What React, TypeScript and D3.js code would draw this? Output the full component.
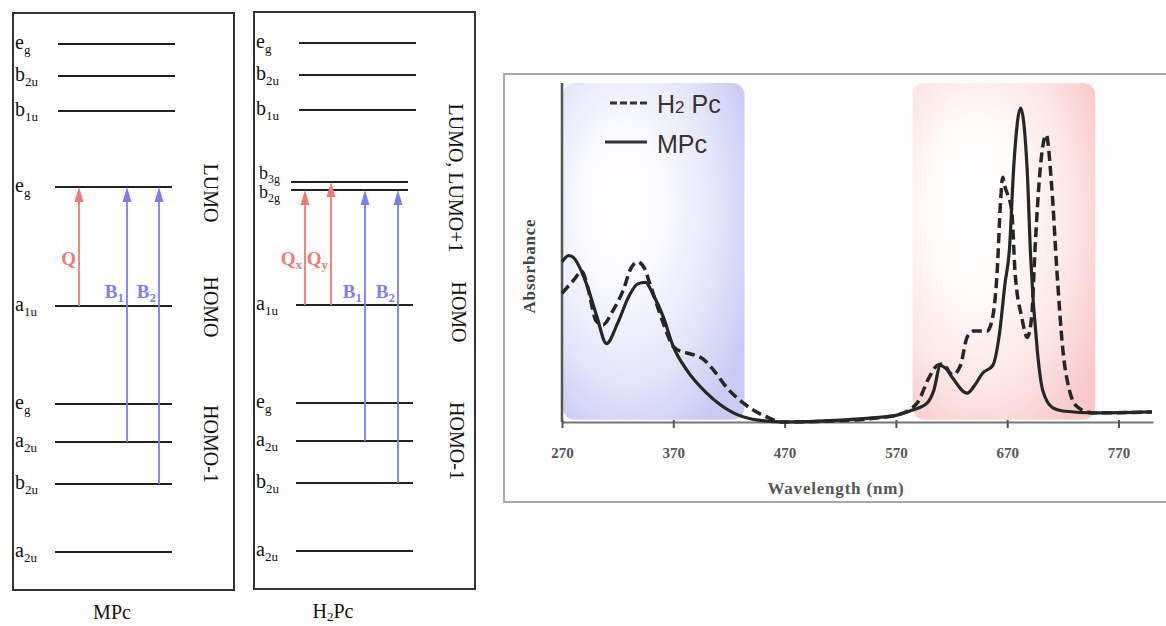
import React, { useRef, useEffect } from "react";
import * as d3 from "d3";

// MO levels, energies in arbitrary units (higher = up)
const mpcLevels = [
  { sym: "e", sub: "g", e: 5.46 },
  { sym: "b", sub: "2u", e: 5.14 },
  { sym: "b", sub: "1u", e: 4.79 },
  { sym: "e", sub: "g", e: 4.03 },
  { sym: "a", sub: "1u", e: 2.84 },
  { sym: "e", sub: "g", e: 1.86 },
  { sym: "a", sub: "2u", e: 1.48 },
  { sym: "b", sub: "2u", e: 1.06 },
  { sym: "a", sub: "2u", e: 0.38 },
];

const h2pcLevels = [
  { sym: "e", sub: "g", e: 5.47 },
  { sym: "b", sub: "2u", e: 5.15 },
  { sym: "b", sub: "1u", e: 4.8 },
  { sym: "b", sub: "3g", e: 4.08 },
  { sym: "b", sub: "2g", e: 4.0 },
  { sym: "a", sub: "1u", e: 2.85 },
  { sym: "e", sub: "g", e: 1.87 },
  { sym: "a", sub: "2u", e: 1.49 },
  { sym: "b", sub: "2u", e: 1.07 },
  { sym: "a", sub: "2u", e: 0.39 },
];

// transitions: index of start level -> index of end level
const mpcTransitions = [
  { name: "Q", sub: "", band: "Q", from: 4, to: 3 },
  { name: "B", sub: "1", band: "B", from: 6, to: 3 },
  { name: "B", sub: "2", band: "B", from: 7, to: 3 },
];
const h2pcTransitions = [
  { name: "Q", sub: "x", band: "Q", from: 5, to: 4 },
  { name: "Q", sub: "y", band: "Q", from: 5, to: 3 },
  { name: "B", sub: "1", band: "B", from: 7, to: 4 },
  { name: "B", sub: "2", band: "B", from: 8, to: 4 },
];

const mpcSideLabels = ["LUMO", "HOMO", "HOMO-1"];
const h2pcSideLabels = ["LUMO, LUMO+1", "HOMO", "HOMO-1"];

// UV-vis spectra
const wavelengthTicks = [270, 370, 470, 570, 670, 770];

const mpcWl = [270, 276, 280, 292, 301, 310, 320, 330, 338, 345, 352, 361, 370, 382, 400, 424, 448, 470, 520, 549, 571, 585, 598, 604, 610, 615, 621, 634, 641, 648, 657, 663, 668, 672, 676, 682, 688, 691, 697, 702, 711, 720, 750, 800];
const mpcAbs = [0.51, 0.53, 0.525, 0.44, 0.34, 0.25, 0.315, 0.4, 0.44, 0.445, 0.405, 0.335, 0.24, 0.166, 0.092, 0.029, 0.005, 0.0, 0.006, 0.013, 0.022, 0.038, 0.06, 0.1, 0.18, 0.17, 0.14, 0.092, 0.118, 0.156, 0.18, 0.28, 0.44, 0.55, 0.82, 1.0, 0.8, 0.53, 0.23, 0.1, 0.045, 0.035, 0.029, 0.032];

const h2pcWl = [270, 280, 288, 293, 301, 307, 315, 325, 332, 338, 344, 349, 361, 370, 377, 382, 390, 397, 406, 418, 433, 454, 468, 520, 550, 571, 589, 600, 607, 612, 621, 628, 634, 640, 646, 652, 657, 661, 664, 666, 668, 674, 677, 683, 688, 692, 695, 699.5, 705, 710, 714.7, 720, 726, 733, 747, 800];
const h2pcAbs = [0.41, 0.45, 0.48, 0.43, 0.32, 0.31, 0.35, 0.42, 0.49, 0.51, 0.49, 0.44, 0.315, 0.24, 0.225, 0.22, 0.212, 0.2, 0.166, 0.11, 0.06, 0.016, 0.0, 0.004, 0.012, 0.022, 0.06, 0.143, 0.18, 0.185, 0.15, 0.18, 0.27, 0.29, 0.29, 0.29, 0.335, 0.48, 0.7, 0.78, 0.75, 0.675, 0.48, 0.335, 0.27, 0.335, 0.55, 0.8, 0.915, 0.75, 0.48, 0.23, 0.1, 0.048, 0.029, 0.032];

const SERIF = "'Liberation Serif', 'Times New Roman', serif";
const SANS = "'Liberation Sans', Arial, sans-serif";
const RED = "#f07878";
const BLUE = "#7d7df2";
const INK = "#262626";

const eScale = d3.scaleLinear().domain([0, 5.77]).range([590, 13]);

const MoPanel = ({ levels, transitions, side, boxX, boxY, lineX, arrowX, sideX, sideY, caption }) => {
  return (
    <g>
      <rect x={boxX} y={boxY} width={221} height={577} fill="none" stroke="#333" strokeWidth={2} />
      {levels.map((l, i) => {
        const yy = eScale(l.e);
        const close = i + 1 < levels.length && l.e - levels[i + 1].e < 0.15;
        const pair = close || (i > 0 && levels[i - 1].e - l.e < 0.15);
        const upper = i < 3;
        const x1 = lineX + (upper ? 3 : pair ? -5 : 0);
        return (
          <g key={i}>
            <line x1={x1} x2={x1 + 117} y1={yy} y2={yy} stroke="#222" strokeWidth={2} />
            <text x={boxX + (pair ? 5 : 2)} y={yy + (close ? -3 : pair ? 8 : 5)} fontFamily={SERIF} fontSize={pair ? 18 : 20} fill="#111">
              {l.sym}
              <tspan fontSize={pair ? 12 : 13} dy={pair ? 4 : 5}>{l.sub}</tspan>
            </text>
          </g>
        );
      })}
      {transitions.map((t, i) => {
        const ax = arrowX[i];
        const y0 = eScale(levels[t.from].e);
        const y1 = eScale(levels[t.to].e);
        const c = t.band === "Q" ? RED : BLUE;
        return (
          <g key={i}>
            <line x1={ax} x2={ax} y1={y0} y2={y1 + 12} stroke={c} strokeWidth={1.8} />
            <path d={`M${ax},${y1} L${ax - 4.5},${y1 + 15} L${ax + 4.5},${y1 + 15} Z`} fill={c} />
            <text x={ax - 3} y={t.band === "Q" ? 265 : 298} textAnchor="end" fontFamily={SERIF} fontWeight="bold" fontSize={19} fill={c}>
              {t.name}
              <tspan fontSize={13} dy={4}>{t.sub}</tspan>
            </text>
          </g>
        );
      })}
      {side.map((s, i) => (
        <text key={s} transform={`translate(${sideX[i]},${sideY[i]}) rotate(90)`} textAnchor="middle" dominantBaseline="middle" fontFamily={SERIF} fontSize={20} fill="#111">
          {s}
        </text>
      ))}
      {caption}
    </g>
  );
};

const Spectrum = () => {
  const axisRef = useRef(null);
  const x = d3.scaleLinear().domain([270, 801]).range([562, 1153]);
  const y = d3.scaleLinear().domain([0, 1.08]).range([422, 83]);

  useEffect(() => {
    const g = d3.select(axisRef.current);
    g.selectAll("*").remove();
    g.call(d3.axisBottom(x).tickValues(wavelengthTicks).tickFormat(d3.format("d")).tickSize(6).tickSizeOuter(0).tickPadding(19));
    g.select(".domain").attr("stroke", "#777").attr("stroke-width", 2);
    g.selectAll(".tick line").attr("stroke", "#555").attr("stroke-width", 2).attr("y1", -2);
    g.selectAll(".tick text")
      .attr("font-family", SERIF)
      .attr("font-weight", "bold")
      .attr("font-size", 15)
      .attr("fill", "#555");
  }, []);

  const line = d3
    .line()
    .x((d) => x(d[0]))
    .y((d) => y(d[1]))
    .curve(d3.curveMonotoneX);

  const mpc = line(mpcWl.map((w, i) => [w, mpcAbs[i]]));
  const h2pc = line(h2pcWl.map((w, i) => [w, h2pcAbs[i]]));

  const bx0 = x(270) + 1, bx1 = x(434);
  const rx0 = x(585), rx1 = x(749);
  const top = y(1.08), bot = y(0.007);

  return (
    <g>
      <defs>
        <radialGradient id="blueGlow" cx="0.38" cy="0.4" r="0.72" fx="0.3" fy="0.35">
          <stop offset="0" stopColor="#ffffff" />
          <stop offset="0.3" stopColor="#fbfbff" />
          <stop offset="0.7" stopColor="#e4e4fa" />
          <stop offset="1" stopColor="#cacaf3" />
        </radialGradient>
        <radialGradient id="redGlow" cx="0.4" cy="0.42" r="0.72" fx="0.3" fy="0.35">
          <stop offset="0" stopColor="#ffffff" />
          <stop offset="0.35" stopColor="#fffbfb" />
          <stop offset="0.72" stopColor="#fde4e4" />
          <stop offset="1" stopColor="#f8caca" />
        </radialGradient>
      </defs>
      <rect x={504} y={74} width={720} height={428} fill="#fdfdfd" stroke="#a8a8a8" strokeWidth={2} />

      <rect x={bx0} y={top} width={bx1 - bx0} height={bot - top} rx={12} fill="url(#blueGlow)" />
      <rect x={rx0} y={top} width={rx1 - rx0} height={bot - top} rx={12} fill="url(#redGlow)" />

      <line x1={x(270)} x2={x(270)} y1={y(1.08)} y2={y(0)} stroke="#555" strokeWidth={2.5} />
      <g ref={axisRef} transform={`translate(0,${y(0)})`} />

      <path d={h2pc} fill="none" stroke={INK} strokeWidth={3.5} strokeDasharray="10 5" />
      <path d={mpc} fill="none" stroke={INK} strokeWidth={3.2} />

      <line x1={610} x2={648} y1={103} y2={103} stroke="#333" strokeWidth={3} strokeDasharray="7 3" />
      <text x={657} y={113} fontFamily={SANS} fontSize={25} fill="#333">
        H<tspan fontSize={17}>2</tspan> Pc
      </text>
      <line x1={605} x2={647} y1={142} y2={142} stroke="#333" strokeWidth={3} />
      <text x={657} y={153} fontFamily={SANS} fontSize={25} fill="#333">MPc</text>

      <text transform="translate(535,266) rotate(-90)" textAnchor="middle" fontFamily={SERIF} fontWeight="bold" fontSize={17} letterSpacing={0.8} fill="#444">
        Absorbance
      </text>
      <text x={836} y={494} textAnchor="middle" fontFamily={SERIF} fontWeight="bold" fontSize={17} letterSpacing={0.8} fill="#555">
        Wavelength (nm)
      </text>
    </g>
  );
};

export default function App() {
  return (
    <svg width={1166} height={626} style={{ position: "absolute", left: 0, top: 0, background: "#fff" }}>
      <MoPanel
        levels={mpcLevels}
        transitions={mpcTransitions}
        side={mpcSideLabels}
        boxX={13}
        boxY={13}
        lineX={55}
        arrowX={[79, 127, 159]}
        sideX={[209, 209, 209]}
        sideY={[193, 307, 444]}
        caption={
          <text x={112} y={619} textAnchor="middle" fontFamily={SERIF} fontSize={20} fill="#111">MPc</text>
        }
      />
      <MoPanel
        levels={h2pcLevels}
        transitions={h2pcTransitions}
        side={h2pcSideLabels}
        boxX={254}
        boxY={12}
        lineX={296}
        arrowX={[305, 331, 365, 398]}
        sideX={[454, 457, 455]}
        sideY={[178, 312, 441]}
        caption={
          <text x={333} y={618} textAnchor="middle" fontFamily={SERIF} fontSize={20} fill="#111">
            H<tspan fontSize={13} dy={3}>2</tspan><tspan dy={-3}>Pc</tspan>
          </text>
        }
      />
      <Spectrum />
    </svg>
  );
}
